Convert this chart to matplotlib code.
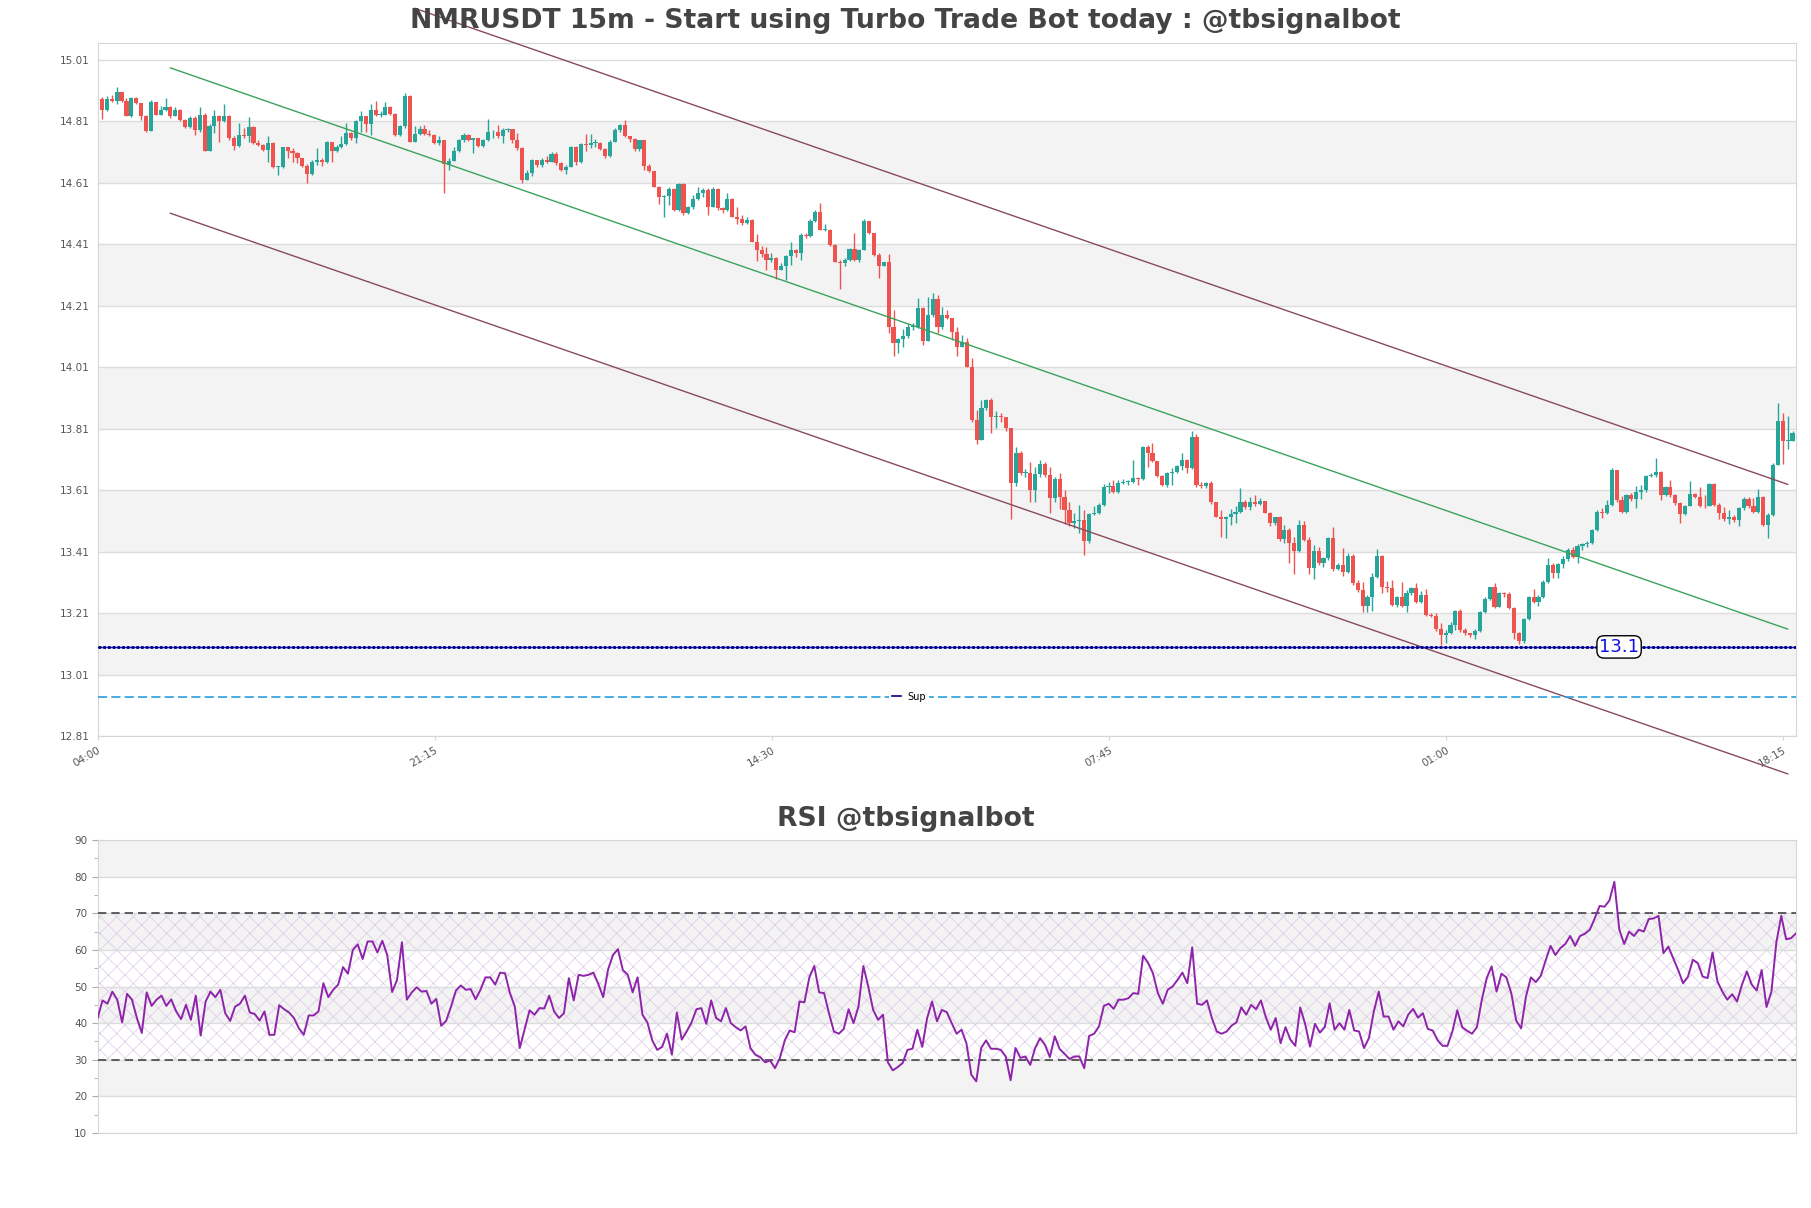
import matplotlib
matplotlib.use("Agg")
import matplotlib.pyplot as plt
import numpy as np
from matplotlib.lines import Line2D
from matplotlib.ticker import MultipleLocator

# ---------------- data ----------------
first_open = 14.884
closes = [
14.848, 14.884, 14.875, 14.904, 14.875, 14.828, 14.886, 14.870, 14.828, 14.779,
14.873, 14.832, 14.848, 14.856, 14.828, 14.846, 14.815, 14.791, 14.821, 14.783,
14.832, 14.714, 14.796, 14.826, 14.810, 14.826, 14.755, 14.730, 14.766, 14.761,
14.791, 14.739, 14.733, 14.717, 14.739, 14.661, 14.661, 14.726, 14.712, 14.706,
14.690, 14.666, 14.640, 14.679, 14.684, 14.679, 14.742, 14.712, 14.726, 14.736,
14.772, 14.755, 14.812, 14.826, 14.802, 14.848, 14.830, 14.830, 14.857, 14.834,
14.766, 14.794, 14.892, 14.744, 14.768, 14.785, 14.768, 14.766, 14.739, 14.750,
14.670, 14.681, 14.714, 14.750, 14.766, 14.750, 14.755, 14.731, 14.750, 14.774,
14.777, 14.761, 14.783, 14.785, 14.750, 14.722, 14.619, 14.643,
14.685, 14.668, 14.685, 14.679, 14.704, 14.674, 14.652, 14.663, 14.728, 14.679,
14.736, 14.734, 14.739, 14.739, 14.719, 14.696, 14.744, 14.782, 14.799, 14.761,
14.752, 14.719, 14.748, 14.666, 14.647, 14.598, 14.563, 14.568, 14.589, 14.520,
14.607, 14.511, 14.531, 14.557, 14.578, 14.587, 14.533, 14.589, 14.527, 14.522,
14.558, 14.500, 14.492, 14.479, 14.490, 14.419, 14.392, 14.379, 14.359, 14.365,
14.327, 14.338, 14.372, 14.390, 14.381, 14.441, 14.437, 14.487, 14.514, 14.457,
14.457, 14.408, 14.354, 14.349, 14.359, 14.395, 14.359, 14.392, 14.487, 14.446,
14.376, 14.340, 14.351, 14.142, 14.090, 14.101, 14.112, 14.142, 14.142, 14.202,
14.097, 14.180, 14.231, 14.142,
14.180, 14.169, 14.126, 14.077, 14.093, 14.012, 13.839, 13.773, 13.877, 13.904,
13.849, 13.849, 13.847, 13.811, 13.632, 13.732, 13.665, 13.667, 13.611, 13.663,
13.695, 13.660, 13.584, 13.645, 13.587, 13.546, 13.502, 13.511, 13.513, 13.446,
13.533, 13.537, 13.562, 13.619, 13.622, 13.605, 13.632, 13.638, 13.638, 13.649,
13.645, 13.752, 13.732, 13.706, 13.656, 13.627, 13.665, 13.670, 13.689, 13.708,
13.681, 13.784, 13.627, 13.622, 13.632, 13.570, 13.524, 13.515, 13.522, 13.533,
13.540, 13.573, 13.554, 13.570, 13.565, 13.576, 13.537, 13.502, 13.522, 13.450,
13.481, 13.437, 13.413, 13.497, 13.448, 13.356, 13.413, 13.372, 13.388, 13.453,
13.353, 13.367, 13.345, 13.396,
13.309, 13.285, 13.233, 13.261, 13.327, 13.396, 13.294, 13.291, 13.236, 13.261,
13.233, 13.277, 13.291, 13.247, 13.269, 13.204, 13.201, 13.157, 13.139, 13.144,
13.171, 13.218, 13.155, 13.144, 13.139, 13.153, 13.215, 13.255, 13.294, 13.231,
13.277, 13.272, 13.226, 13.144, 13.120, 13.190, 13.261, 13.247, 13.264, 13.312,
13.367, 13.342, 13.370, 13.385, 13.415, 13.394, 13.428, 13.435, 13.439, 13.481,
13.540, 13.537, 13.562, 13.676, 13.578, 13.540, 13.594, 13.580, 13.605, 13.609,
13.656, 13.660, 13.670, 13.594, 13.619, 13.594, 13.567, 13.533, 13.559, 13.598,
13.589, 13.559, 13.557, 13.630, 13.562, 13.537, 13.515, 13.524, 13.513, 13.551,
13.580, 13.557, 13.540, 13.587, 13.497, 13.529, 13.692, 13.836, 13.771, 13.771,
13.797]

highs = [
14.889, 14.892, 14.897, 14.921, 14.904, 14.886, 14.889, 14.889, 14.867, 14.830,
14.878, 14.873, 14.859, 14.886, 14.859, 14.856, 14.850, 14.819, 14.826, 14.826,
14.856, 14.837, 14.801, 14.848, 14.832, 14.865, 14.832, 14.761, 14.804, 14.788,
14.823, 14.794, 14.750, 14.736, 14.761, 14.742, 14.666, 14.728, 14.725, 14.722,
14.709, 14.692, 14.670, 14.684, 14.722, 14.690, 14.747, 14.744, 14.733, 14.761,
14.804, 14.777, 14.815, 14.845, 14.826, 14.865, 14.875, 14.843, 14.872, 14.859,
14.837, 14.799, 14.903, 14.895, 14.794, 14.794, 14.799, 14.783, 14.768, 14.764,
14.750, 14.690, 14.728, 14.753, 14.772, 14.768, 14.757, 14.755, 14.753, 14.819,
14.783, 14.797, 14.788, 14.788, 14.783, 14.772, 14.725, 14.651,
14.687, 14.685, 14.690, 14.696, 14.709, 14.709, 14.679, 14.668, 14.730, 14.730,
14.739, 14.768, 14.768, 14.752, 14.744, 14.723, 14.748, 14.788, 14.802, 14.815,
14.759, 14.755, 14.750, 14.748, 14.672, 14.650, 14.600, 14.571, 14.596, 14.593,
14.611, 14.609, 14.535, 14.571, 14.596, 14.593, 14.593, 14.596, 14.593, 14.531,
14.576, 14.560, 14.533, 14.506, 14.498, 14.492, 14.444, 14.403, 14.401, 14.383,
14.368, 14.349, 14.376, 14.416, 14.394, 14.446, 14.448, 14.492, 14.520, 14.546,
14.476, 14.459, 14.411, 14.359, 14.365, 14.397, 14.446, 14.394, 14.492, 14.487,
14.448, 14.383, 14.354, 14.379, 14.197, 14.104, 14.134, 14.151, 14.153, 14.235,
14.205, 14.240, 14.251, 14.245,
14.207, 14.197, 14.166, 14.142, 14.115, 14.104, 14.039, 13.871, 13.904, 13.906,
13.909, 13.866, 13.862, 13.841, 13.808, 13.752, 13.736, 13.678, 13.703, 13.684,
13.708, 13.703, 13.687, 13.654, 13.665, 13.611, 13.573, 13.535, 13.562, 13.546,
13.535, 13.557, 13.567, 13.630, 13.638, 13.643, 13.643, 13.645, 13.643, 13.708,
13.654, 13.754, 13.757, 13.763, 13.706, 13.660, 13.670, 13.681, 13.692, 13.732,
13.711, 13.801, 13.793, 13.638, 13.638, 13.641, 13.573, 13.544, 13.526, 13.548,
13.557, 13.616, 13.578, 13.589, 13.594, 13.584, 13.576, 13.540, 13.524, 13.526,
13.497, 13.486, 13.459, 13.513, 13.511, 13.459, 13.432, 13.426, 13.394, 13.457,
13.489, 13.372, 13.421, 13.405,
13.402, 13.318, 13.312, 13.269, 13.340, 13.418, 13.399, 13.316, 13.318, 13.266,
13.312, 13.285, 13.294, 13.307, 13.283, 13.287, 13.209, 13.209, 13.179, 13.155,
13.182, 13.220, 13.222, 13.161, 13.146, 13.157, 13.218, 13.261, 13.296, 13.309,
13.280, 13.280, 13.280, 13.229, 13.150, 13.193, 13.266, 13.287, 13.269, 13.318,
13.388, 13.372, 13.374, 13.396, 13.421, 13.426, 13.435, 13.439, 13.443, 13.483,
13.546, 13.551, 13.578, 13.681, 13.676, 13.591, 13.598, 13.600, 13.624, 13.627,
13.660, 13.665, 13.714, 13.674, 13.624, 13.643, 13.598, 13.570, 13.562, 13.641,
13.602, 13.619, 13.594, 13.632, 13.632, 13.567, 13.554, 13.546, 13.529, 13.554,
13.589, 13.589, 13.584, 13.613, 13.591, 13.535, 13.698, 13.895, 13.860, 13.852,
13.804]

lows = [
14.819, 14.843, 14.873, 14.868, 14.873, 14.826, 14.824, 14.865, 14.815, 14.777,
14.780, 14.830, 14.830, 14.843, 14.821, 14.826, 14.812, 14.788, 14.790, 14.766,
14.777, 14.712, 14.714, 14.772, 14.744, 14.808, 14.750, 14.717, 14.728, 14.755,
14.744, 14.736, 14.731, 14.714, 14.679, 14.657, 14.635, 14.657, 14.690, 14.679,
14.673, 14.662, 14.611, 14.635, 14.668, 14.666, 14.673, 14.679, 14.709, 14.722,
14.733, 14.750, 14.739, 14.775, 14.777, 14.766, 14.826, 14.823, 14.832, 14.830,
14.761, 14.764, 14.788, 14.742, 14.744, 14.766, 14.766, 14.764, 14.736, 14.733,
14.577, 14.651, 14.681, 14.709, 14.744, 14.747, 14.706, 14.728, 14.728, 14.747,
14.757, 14.755, 14.739, 14.777, 14.739, 14.717, 14.611, 14.619,
14.633, 14.663, 14.663, 14.674, 14.679, 14.668, 14.647, 14.639, 14.661, 14.668,
14.674, 14.712, 14.723, 14.728, 14.717, 14.690, 14.693, 14.742, 14.777, 14.759,
14.744, 14.715, 14.712, 14.652, 14.644, 14.596, 14.542, 14.498, 14.538, 14.517,
14.517, 14.506, 14.509, 14.524, 14.555, 14.565, 14.506, 14.531, 14.522, 14.511,
14.517, 14.498, 14.476, 14.473, 14.476, 14.416, 14.357, 14.370, 14.327, 14.354,
14.296, 14.325, 14.294, 14.343, 14.370, 14.359, 14.430, 14.435, 14.484, 14.455,
14.452, 14.403, 14.351, 14.264, 14.338, 14.357, 14.357, 14.354, 14.390, 14.444,
14.372, 14.300, 14.338, 14.121, 14.047, 14.056, 14.077, 14.104, 14.132, 14.137,
14.083, 14.094, 14.175, 14.121,
14.134, 14.166, 14.099, 14.045, 14.077, 14.010, 13.833, 13.760, 13.773, 13.871,
13.795, 13.811, 13.833, 13.801, 13.515, 13.622, 13.660, 13.654, 13.570, 13.570,
13.654, 13.654, 13.537, 13.570, 13.548, 13.500, 13.492, 13.486, 13.470, 13.399,
13.437, 13.529, 13.533, 13.559, 13.600, 13.600, 13.602, 13.630, 13.627, 13.632,
13.627, 13.643, 13.687, 13.703, 13.654, 13.624, 13.619, 13.627, 13.665, 13.676,
13.665, 13.678, 13.619, 13.616, 13.616, 13.565, 13.522, 13.457, 13.453, 13.497,
13.504, 13.535, 13.548, 13.546, 13.557, 13.562, 13.535, 13.494, 13.497, 13.446,
13.437, 13.374, 13.337, 13.410, 13.443, 13.337, 13.320, 13.367, 13.361, 13.383,
13.348, 13.350, 13.331, 13.340,
13.302, 13.280, 13.215, 13.215, 13.218, 13.323, 13.274, 13.280, 13.233, 13.231,
13.229, 13.212, 13.269, 13.242, 13.242, 13.201, 13.196, 13.153, 13.106, 13.112,
13.142, 13.155, 13.150, 13.139, 13.131, 13.125, 13.150, 13.209, 13.253, 13.226,
13.229, 13.264, 13.222, 13.125, 13.110, 13.114, 13.186, 13.242, 13.233, 13.258,
13.309, 13.323, 13.323, 13.356, 13.381, 13.388, 13.374, 13.415, 13.426, 13.435,
13.478, 13.518, 13.533, 13.559, 13.573, 13.537, 13.537, 13.576, 13.551, 13.580,
13.605, 13.652, 13.652, 13.578, 13.591, 13.589, 13.562, 13.502, 13.529, 13.557,
13.584, 13.554, 13.551, 13.557, 13.559, 13.515, 13.511, 13.500, 13.508, 13.494,
13.546, 13.551, 13.537, 13.535, 13.494, 13.453, 13.526, 13.695, 13.695, 13.743,
13.773]

rsi = [
41.4, 46.2, 45.3, 48.6, 46.4, 40.2, 48.0, 46.4, 41.4, 37.3,
48.4, 44.7, 46.4, 47.5, 44.7, 46.5, 43.2, 41.1, 45.0, 40.9,
47.5, 36.6, 45.9, 48.6, 47.1, 49.1, 42.7, 40.6, 44.5, 45.3,
47.5, 42.9, 42.5, 40.7, 43.2, 36.8, 36.8, 44.9, 43.8, 42.9,
41.4, 38.6, 36.8, 42.1, 42.1, 43.2, 50.9, 47.1, 49.1, 50.5,
55.3, 53.5, 60.0, 61.5, 57.5, 62.3, 62.3, 59.3, 62.5, 58.6,
48.5, 51.8, 62.1, 46.4, 48.4, 49.8, 48.6, 48.8, 45.3, 46.6,
39.3, 40.6, 44.5, 48.9, 50.3, 49.1, 49.3, 46.5, 49.1, 52.5,
52.5, 50.5, 53.8, 53.6, 48.2, 44.5, 33.2, 38.4, 43.5, 42.3,
44.1, 44.0, 47.5, 43.2, 41.4, 42.7, 52.3, 46.2, 53.2, 52.9,
53.2, 53.8, 50.7, 47.1, 54.7, 58.6, 60.2, 54.5, 53.2, 48.4,
52.5, 42.3, 40.2, 35.3, 32.7, 33.5, 37.1, 31.4, 42.9, 35.5,
37.7, 40.2, 43.8, 44.1, 39.8, 46.2, 41.4, 40.5, 44.1, 40.0,
38.9, 38.0, 39.1, 33.2, 31.4, 30.7, 29.3, 29.8, 27.7, 30.5,
35.3, 38.0, 37.5, 45.9, 45.7, 52.5, 55.6, 48.4, 48.2, 42.7,
37.7, 37.1, 38.4, 43.8, 40.0, 44.5, 55.6, 50.0, 43.6, 40.9,
42.3, 29.3, 27.1, 28.0, 29.1, 32.7, 33.0, 38.2, 33.5, 41.4,
45.9, 40.5, 43.6, 43.0,
40.0, 37.1, 38.2, 34.5, 25.9, 24.1, 33.2, 35.3, 33.0, 33.0,
32.7, 30.9, 24.4, 33.2, 30.5, 30.9, 28.6, 33.2, 35.9, 34.1,
30.7, 36.4, 32.9, 31.6, 30.2, 30.9, 30.9, 27.7, 36.5, 37.1,
39.1, 44.7, 45.3, 43.9, 46.4, 46.4, 46.8, 48.2, 48.0, 58.4,
56.5, 53.6, 48.2, 45.3, 49.1, 50.0, 51.8, 53.8, 50.9, 60.7,
45.3, 45.0, 46.2, 41.4, 37.7, 37.1, 37.7, 39.3, 40.2, 44.3,
42.3, 45.0, 43.8, 46.2, 41.6, 38.2, 41.4, 34.5, 38.9, 35.5,
33.8, 44.3, 39.8, 33.6, 39.8, 37.4, 38.9, 45.4, 38.2, 40.0,
38.2, 43.6, 38.0, 37.7, 33.2, 35.9, 43.2, 48.6, 41.8, 41.8,
38.2, 40.5, 39.1, 42.3, 43.9, 41.5, 42.7, 38.4, 38.0, 35.3,
33.8, 33.8, 37.7, 43.5, 38.9, 37.9, 37.1, 38.9, 46.4, 52.3,
55.5, 48.6, 53.5, 52.5, 48.2, 40.7, 38.6, 47.3, 52.5, 51.2,
52.9, 57.1, 61.1, 58.6, 60.5, 61.6, 63.8, 61.1, 63.8, 64.4,
65.5, 68.6, 72.0, 71.8, 73.5, 78.6, 65.6, 61.6, 65.0, 63.8,
65.5, 65.0, 68.4, 68.6, 69.3, 59.1, 60.9, 57.7, 54.5, 50.9,
52.7, 57.3, 56.4, 52.7, 52.3, 59.3, 51.4, 48.6, 46.4, 47.9,
45.9, 50.5, 54.1, 50.5, 48.9, 54.5, 44.4, 48.6, 62.0, 69.3,
62.9, 63.2, 64.5]

price_ticks = [12.81, 13.01, 13.21, 13.41, 13.61, 13.81, 14.01, 14.21, 14.41, 14.61, 14.81, 15.01]
time_labels = ["04:00", "21:15", "14:30", "07:45", "01:00", "18:15"]
time_label_idx = [0, 69, 138, 207, 276, 345]

channel_x = [14, 345]
channel_mid = [14.984, 13.158]
channel_low = [14.511, 12.687]
channel_up_x = [64, 345]
channel_up = [15.178, 13.629]
support_level = 13.1
support_label_idx = 310.5
sup_dashed_level = 12.937
rsi_levels = [30, 70]

# ---------------- style ----------------
GREEN = "#26a69a"
RED = "#ef5350"
BAND = "#f3f3f3"
GRID = "#dddddd"
SPINE = "#d6d6d6"
TXT = "#555555"
plt.rcParams["hatch.linewidth"] = 0.5

fig = plt.figure(figsize=(18.11, 12.08), dpi=100)
ax = fig.add_axes([0.0539, 0.3907, 0.9378, 0.5737])
ax2 = fig.add_axes([0.0539, 0.0621, 0.9378, 0.2425])

n = len(closes)
x = np.arange(n)
c = np.array(closes)
o = np.array([first_open] + closes[:-1])
hi = np.maximum(np.array(highs), np.maximum(o, c))
lo = np.minimum(np.array(lows), np.minimum(o, c))
col = np.where(c >= o, GREEN, RED)

# bands / grid
for b in price_ticks[1::2][:-1]:
    ax.axhspan(b, b + 0.2, color=BAND, zorder=0, lw=0)
ax.set_yticks(price_ticks)
ax.set_yticklabels([f"{t:.2f}" for t in price_ticks])
ax.yaxis.grid(True, color=GRID, lw=1, zorder=1)
ax.set_axisbelow(True)

ax.vlines(x, lo, hi, colors=col, linewidth=1, zorder=3)
body_b = np.minimum(o, c)
body_h = np.maximum(np.abs(c - o), 0.003)
ax.bar(x, body_h, bottom=body_b, width=0.85, color=col, linewidth=0, zorder=4)

# channel
ax.plot(channel_x, channel_mid, color="#3aa35a", lw=1, zorder=5, clip_on=False)
ax.plot(channel_x, channel_low, color="#8a4a5c", lw=1, zorder=5, clip_on=False)
ax.plot(channel_up_x, channel_up, color="#8a4a5c", lw=1, zorder=5, clip_on=False)

# support lines
ax.axhline(support_level, color="#1a1ad0", lw=1.0, zorder=5)
ax.axhline(support_level, color="#000080", lw=2.0, ls=(0, (1, 0.7)), zorder=6)
ax.text(support_label_idx, support_level, "13.1", color="#1010e0", fontsize=13,
        ha="center", va="center", zorder=8,
        bbox=dict(boxstyle="round,pad=0.12,rounding_size=0.4", fc="white", ec="black", lw=1))
ax.axhline(sup_dashed_level, color="#2aa0d8", lw=1.2, ls=(0, (5.5, 2.5)), zorder=5)
leg = ax.legend([Line2D([0], [0], color="#000080", lw=1.2)], ["Sup"], loc="center",
                bbox_to_anchor=(0.4776, 0.057), fontsize=7, frameon=True, framealpha=1,
                edgecolor="none", facecolor="white", handlelength=1.0, handletextpad=0.6,
                borderpad=0.3)
leg.set_zorder(9)

ax.set_xlim(-0.9, n - 0.3)
ax.set_ylim(12.81, 15.065)
ax.set_xticks([t - 0.9 for t in time_label_idx])
ax.set_xticklabels(time_labels, rotation=30, ha="right", rotation_mode="anchor")
ax.tick_params(axis="both", labelsize=7.5, colors=TXT, length=3, color=SPINE)
ax.tick_params(axis="y", length=0, pad=6)
for s in ax.spines.values():
    s.set_color(SPINE)

fig.text(0.5, 1 - 21 / 1208, "NMRUSDT 15m - Start using Turbo Trade Bot today : @tbsignalbot",
         ha="center", va="center", fontsize=19.2, fontweight="bold", color="#444444")

# ---------------- RSI ----------------
for b in [20, 40, 60, 80]:
    ax2.axhspan(b, b + 10, color=BAND, zorder=0, lw=0)
ax2.fill_between([0, n - 1], rsi_levels[0], rsi_levels[1], facecolor="none",
                 edgecolor="#dcc8e6", hatch="xx", lw=0, zorder=1)
ax2.yaxis.grid(True, color=GRID, lw=1, zorder=1)
for lv in rsi_levels:
    ax2.axhline(lv, color="#444444", lw=1.2, ls=(0, (5, 3)), zorder=3)
ax2.plot(x, rsi, color="#8e24aa", lw=1.4, zorder=4)
ax2.set_xlim(0, n - 1)
ax2.set_ylim(10, 90)
ax2.yaxis.set_major_locator(MultipleLocator(10))
ax2.yaxis.set_minor_locator(MultipleLocator(5))
ax2.set_xticks([])
ax2.tick_params(axis="y", which="both", labelsize=7.5, colors=TXT, color="#aaaaaa")
ax2.tick_params(axis="y", which="major", length=4)
ax2.tick_params(axis="y", which="minor", length=3)
for s in ax2.spines.values():
    s.set_color(SPINE)

fig.text(0.5, 1 - 819 / 1208, "RSI @tbsignalbot", ha="center", va="center",
         fontsize=19.2, fontweight="bold", color="#444444")

fig.savefig("out.png", dpi=100)
